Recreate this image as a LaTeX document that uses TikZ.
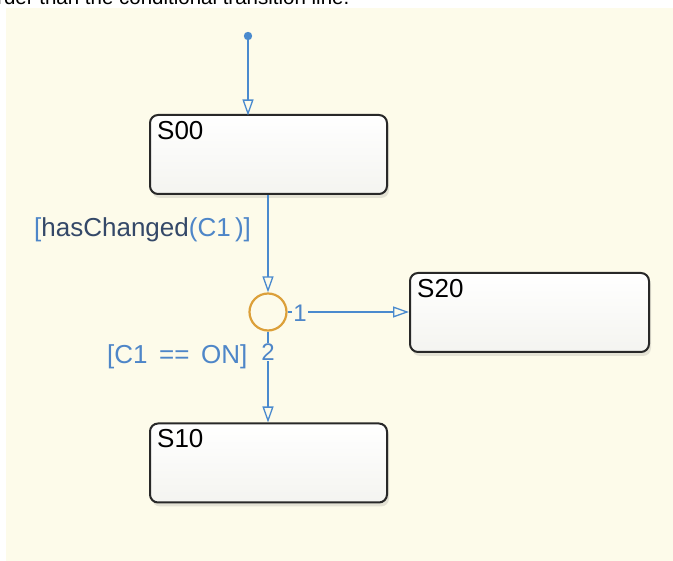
\documentclass[tikz,border=0pt]{standalone}
\usepackage{fontspec}
\setmainfont{Liberation Sans}
\usetikzlibrary{arrows.meta,shadows}
\definecolor{cream}{RGB}{253,251,234}
\definecolor{tblue}{RGB}{74,138,206}
\definecolor{lblue}{RGB}{78,134,200}
\definecolor{dlab}{RGB}{52,72,104}
\definecolor{jorange}{RGB}{220,160,58}
\definecolor{sborder}{RGB}{40,40,40}
\tikzset{
  statebox/.style={draw=sborder, line width=2pt, rounded corners=8pt,
    top color=white, bottom color={rgb,255:red,244;green,244;blue,240},
    minimum width=237pt, minimum height=79pt,
    drop shadow={opacity=0.2, shadow xshift=2pt, shadow yshift=-4pt}},
  statename/.style={font=\fontsize{26}{26}\selectfont, text=black, inner sep=0pt, anchor=north west},
  trans/.style={draw=tblue, line width=1.3pt,
    -{Triangle[open, length=16pt, width=11pt, line width=1.3pt]}},
  junc/.style={circle, draw=jorange, line width=2.2pt, minimum size=37pt, inner sep=0pt},
  glabel/.style={font=\fontsize{26}{26}\selectfont, text=lblue, inner sep=0pt},
  nlabel/.style={font=\fontsize{24}{24}\selectfont, text=lblue, fill=cream, inner sep=1pt},
}
\begin{document}
\begin{tikzpicture}[x=1pt,y=-1pt]
\useasboundingbox (0,0) rectangle (673,561);
\begin{scope}
\clip (0,0) rectangle (673,8);
\node[anchor=base west, inner sep=0pt, font=\fontsize{20.5}{20.5}\selectfont, text=black] (toptext) at (-3,5) {rder than the conditional transition line.};
\end{scope}
\fill[cream] (6,8) rectangle (673,561);
% states
\node[statebox] (S00) at (268.5,154.5) {};
\node[statename] (S00n) at ([xshift=8pt,yshift=-7pt]S00.north west) {S00};
\node[statebox, minimum width=239pt] (S20) at (529.5,312.5) {};
\node[statename] (S20n) at ([xshift=8pt,yshift=-7pt]S20.north west) {S20};
\node[statebox] (S10) at (268.5,463) {};
\node[statename] (S10n) at ([xshift=8pt,yshift=-7pt]S10.north west) {S10};
% junction
\node[junc] (J) at (268,312) {};
% default transition
\fill[tblue] (248,36) circle (4.2pt);
\coordinate (dflt) at (248,36);
\draw[trans] (dflt) -- (248,115.5);
% transitions
\draw[trans] (S00.south -| J) -- (J.north);
\draw[trans] (J.east) -- (S20.west |- J);
\draw[trans] (J.south) -- (S10.north -| J);
\node[nlabel] (one) at (300,313) {1};
\node[nlabel] (two) at (268,352) {2};
\node[glabel, anchor=west] (g1) at (34,230) {[\textcolor{dlab}{hasChanged}(C1\,)]};
\node[glabel, anchor=west] (g2) at (107,357) {[C1 \,==\, ON]};
\end{tikzpicture}
\end{document}
